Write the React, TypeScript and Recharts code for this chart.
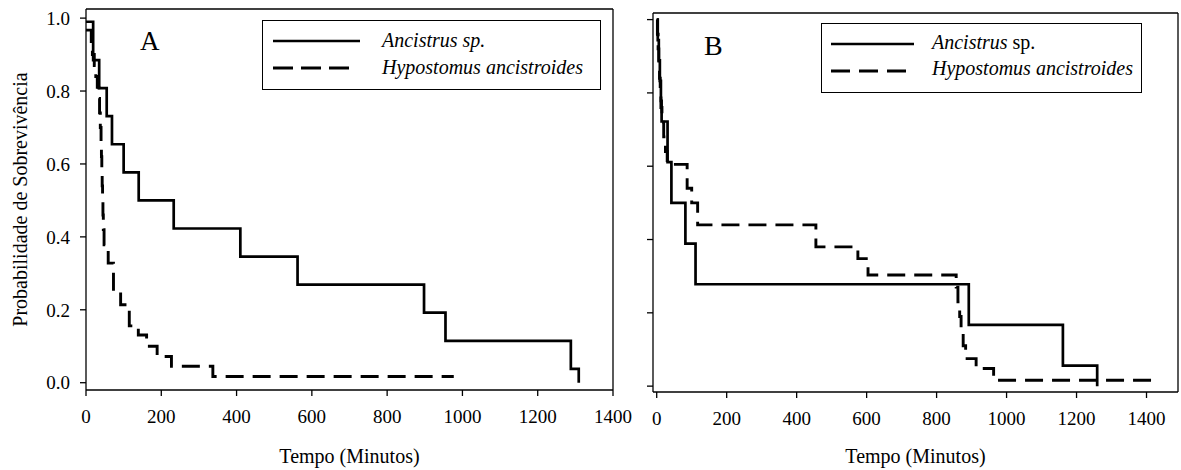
import React from 'react';
import { LineChart, Line, XAxis, YAxis, ReferenceLine, Legend, Customized } from 'recharts';

const SERIF = '"Liberation Serif", "DejaVu Serif", "Times New Roman", serif';

// Painel A - tempo (min) e probabilidade de sobrevivência
const tempoAncistrusA = [0, 19, 35, 55, 69, 100, 140, 233, 410, 562, 898, 955, 1288, 1309];
const survAncistrusA = [0.99, 0.885, 0.808, 0.731, 0.654, 0.577, 0.5, 0.423, 0.346, 0.269, 0.192, 0.115, 0.038, 0];

const tempoHypostomusA = [0, 14, 17, 22, 26, 30, 34, 36, 38, 40, 41, 42, 43, 44, 45, 46, 48, 59, 73, 92, 115, 139, 161, 189, 227, 337, 977];
const survHypostomusA = [0.967, 0.93, 0.9, 0.87, 0.84, 0.81, 0.78, 0.74, 0.7, 0.66, 0.62, 0.58, 0.54, 0.5, 0.46, 0.42, 0.378, 0.328, 0.25, 0.214, 0.156, 0.131, 0.1, 0.072, 0.045, 0.017, 0.017];

// Painel B
const tempoAncistrusB = [0, 3, 6, 9, 12, 14, 31, 42, 82, 111, 892, 1161, 1259];
const survAncistrusB = [1.0, 0.944, 0.889, 0.833, 0.778, 0.722, 0.611, 0.5, 0.389, 0.278, 0.167, 0.056, 0];

const tempoHypostomusB = [0, 2, 4, 6, 8, 10, 12, 15, 20, 25, 30, 87, 100, 117, 455, 575, 604, 856, 861, 866, 870, 876, 883, 913, 963, 1413];
const survHypostomusB = [1.0, 0.96, 0.92, 0.88, 0.84, 0.8, 0.76, 0.72, 0.68, 0.64, 0.605, 0.54, 0.5, 0.44, 0.38, 0.348, 0.303, 0.27, 0.23, 0.19, 0.15, 0.11, 0.075, 0.048, 0.016, 0.016];

const xTicks = [0, 200, 400, 600, 800, 1000, 1200, 1400];
const yTicks = [0, 0.2, 0.4, 0.6, 0.8, 1.0];

const rows = (t: number[], s: number[]) => t.map((v, i) => ({ t: v, s: s[i] }));

function YTitle(props: any) {
	const vb = props.viewBox;
	if (!vb) return null;
	const x = vb.x + 20;
	const y = vb.y + vb.height / 2;
	return (
		<text
			x={x}
			y={y}
			transform={`rotate(-90, ${x}, ${y})`}
			textAnchor='middle'
			dominantBaseline='central'
			fontFamily={SERIF}
			fontSize={20}
			fill='#000'
		>
			Probabilidade de Sobrevivência
		</text>
	);
}

function XTitle(props: any) {
	const vb = props.viewBox;
	if (!vb) return null;
	return (
		<text
			x={vb.x + vb.width / 2}
			y={vb.y + vb.height - 7}
			textAnchor='middle'
			fontFamily={SERIF}
			fontSize={20}
			fill='#000'
		>
			Tempo (Minutos)
		</text>
	);
}

function LegendBox({ lg }: { lg: any }) {
	return (
		<svg width={lg.w} height={lg.h} style={{ display: 'block' }}>
			<rect x={0.5} y={0.5} width={lg.w - 1} height={lg.h - 1} fill='#fff' stroke='#000' strokeWidth={1} />
			<line x1={lg.lineX} x2={lg.solidEnd} y1={lg.y1} y2={lg.y1} stroke='#000' strokeWidth={2.7} />
			<line
				x1={lg.lineX}
				x2={lg.dashEnd}
				y1={lg.y2}
				y2={lg.y2}
				stroke='#000'
				strokeWidth={2.9}
				strokeDasharray={lg.dash}
			/>
			<text x={lg.textX} y={lg.b1} fontFamily={SERIF} fontSize={20} fill='#000'>
				<tspan fontStyle='italic'>Ancistrus</tspan>
				{lg.spItalic ? <tspan fontStyle='italic'> sp.</tspan> : <tspan> sp.</tspan>}
			</text>
			<text x={lg.textX} y={lg.b2} fontFamily={SERIF} fontSize={20} fontStyle='italic' fill='#000'>
				Hypostomus ancistroides
			</text>
		</svg>
	);
}

function Panel(p: any) {
	const tickStyle = { fontSize: 19, fontFamily: SERIF, fill: '#000' };
	return (
		<div style={{ position: 'absolute', left: p.left, top: 0 }}>
			<LineChart
				width={p.width}
				height={470}
				margin={{ top: p.plotTop, right: p.width - p.plotRight, bottom: 0, left: 0 }}
			>
				<XAxis
					dataKey='t'
					type='number'
					domain={p.xDomain}
					ticks={xTicks}
					height={470 - p.plotBottom}
					tick={tickStyle}
					tickSize={6}
					tickMargin={14}
					stroke='#000'
					strokeWidth={1.3}
					label={<XTitle />}
				/>
				<YAxis
					dataKey='s'
					type='number'
					domain={p.yDomain}
					ticks={yTicks}
					width={p.plotLeft}
					tick={tickStyle}
					tickSize={6}
					tickMargin={10}
					tickFormatter={(v: number) => (p.yLabels ? v.toFixed(1) : '')}
					stroke='#000'
					strokeWidth={1.3}
					label={p.yLabels ? <YTitle /> : undefined}
				/>
				<ReferenceLine y={p.yDomain[1]} stroke='#000' strokeWidth={1.3} ifOverflow='visible' />
				<ReferenceLine x={p.xDomain[1]} stroke='#000' strokeWidth={1.3} ifOverflow='visible' />
				<Line
					data={p.anc}
					dataKey='s'
					type='stepAfter'
					stroke='#000'
					strokeWidth={2.7}
					dot={false}
					activeDot={false}
					legendType='none'
					isAnimationActive={false}
				/>
				<Line
					data={p.hyp}
					dataKey='s'
					type='stepAfter'
					stroke='#000'
					strokeWidth={2.9}
					strokeDasharray='18 9'
					dot={false}
					activeDot={false}
					legendType='none'
					isAnimationActive={false}
				/>
				<Customized
					component={() => (
						<text x={p.letterX} y={p.letterY} fontFamily={SERIF} fontSize={p.letterSize} fill='#000'>
							{p.letter}
						</text>
					)}
				/>
				<Legend
					layout='horizontal'
					verticalAlign='middle'
					align='center'
					wrapperStyle={{ left: p.lg.x, top: p.lg.y, width: p.lg.w, height: p.lg.h }}
					content={() => <LegendBox lg={p.lg} />}
				/>
			</LineChart>
		</div>
	);
}

export default function App() {
	return (
		<div style={{ position: 'absolute', left: 0, top: 0, width: 1181, height: 470, background: '#fff' }}>
			<Panel
				left={0}
				width={640}
				plotLeft={86}
				plotTop={9}
				plotRight={613}
				plotBottom={390}
				xDomain={[0, 1400]}
				yDomain={[-0.02, 1.025]}
				yLabels
				anc={rows(tempoAncistrusA, survAncistrusA)}
				hyp={rows(tempoHypostomusA, survHypostomusA)}
				letter='A'
				letterX={140}
				letterY={50}
				letterSize={27}
				lg={{ x: 262, y: 20, w: 339, h: 70, lineX: 11, solidEnd: 98, dashEnd: 87, dash: '20 8', y1: 21, y2: 48, textX: 120, b1: 27, b2: 54, spItalic: true }}
			/>
			<Panel
				left={620}
				width={561}
				plotLeft={33}
				plotTop={13}
				plotRight={558}
				plotBottom={392}
				xDomain={[-10.6, 1490]}
				yDomain={[-0.016, 1.018]}
				yLabels={false}
				anc={rows(tempoAncistrusB, survAncistrusB)}
				hyp={rows(tempoHypostomusB, survHypostomusB)}
				letter='B'
				letterX={84}
				letterY={55}
				letterSize={28}
				lg={{ x: 201, y: 23, w: 321, h: 70, lineX: 10, solidEnd: 93, dashEnd: 85, dash: '19 9', y1: 21, y2: 48, textX: 111, b1: 26, b2: 52, spItalic: false }}
			/>
		</div>
	);
}
